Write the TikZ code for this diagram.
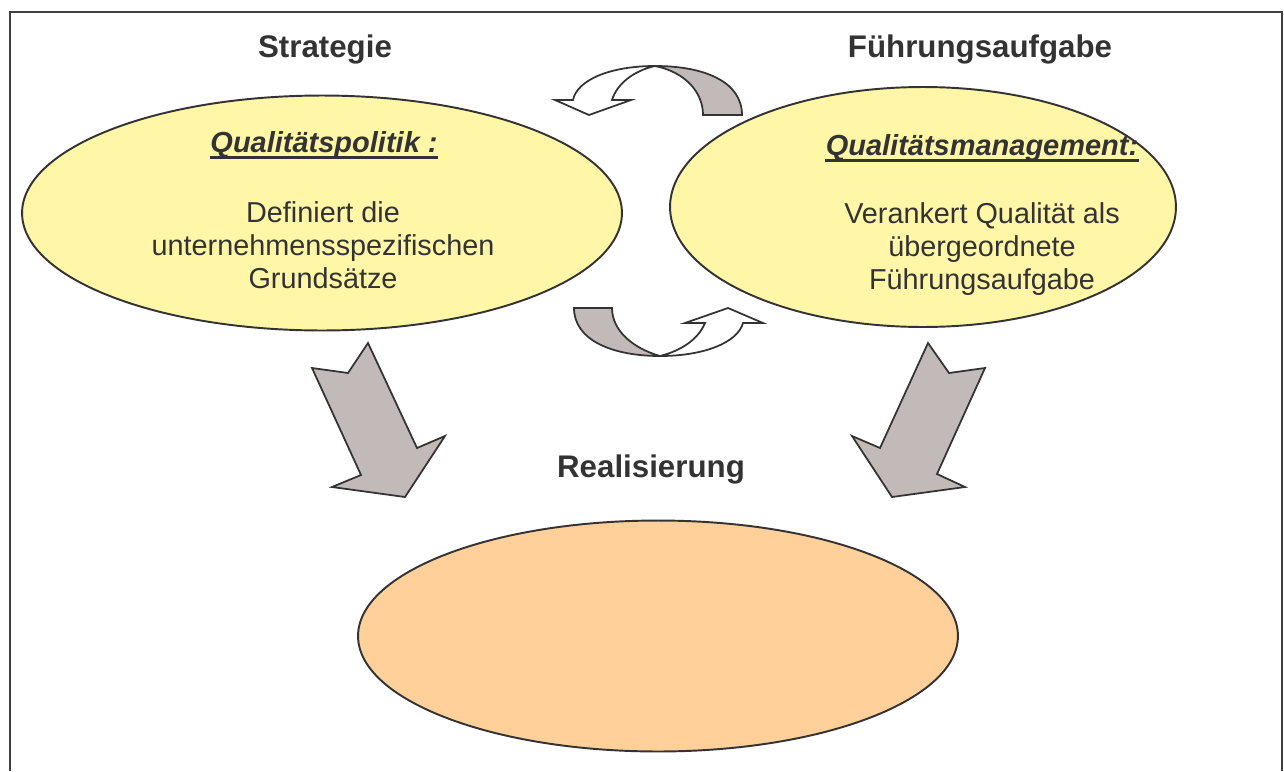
\documentclass[tikz,border=0pt]{standalone}
\usepackage{fontspec}
\setmainfont{Liberation Sans}
\usetikzlibrary{shapes.geometric}
\definecolor{ellyellow}{HTML}{FFF6A8}
\definecolor{ellpeach}{HTML}{FFD09A}
\definecolor{arrowgray}{HTML}{C2B9B9}
\definecolor{inkgray}{HTML}{333333}

\begin{document}
\begin{tikzpicture}[x=0.02cm,y=-0.02cm,
    oval/.style={ellipse, draw=inkgray, line width=1.1pt},
    heading/.style={font=\fontsize{17.8}{20}\selectfont\bfseries,
        text=inkgray, anchor=base},
    subhead/.style={font=\fontsize{16.5}{19}\selectfont\bfseries\itshape,
        text=inkgray, anchor=base, inner sep=0pt},
    bodytext/.style={font=\fontsize{16.4}{18.7}\selectfont, text=inkgray,
        align=center},
    blockarrow/.style={draw=inkgray, line width=1pt, fill=arrowgray,
        line join=miter},
    bentarrow/.style={draw=inkgray, line width=1pt, fill=white},
    ulline/.style={draw=inkgray, line width=1.7pt}]

    \useasboundingbox (0,0) rectangle (1284,771);
    \draw[line width=1.1pt, draw=black!75] (10,771) -- (10,12) -- (1282,12) -- (1282,771);

    % the three ovals
    \node[oval, fill=ellyellow, minimum width=12cm, minimum height=4.7cm]
        (politik) at (322,213) {};
    \node[oval, fill=ellyellow, minimum width=10.12cm, minimum height=4.8cm]
        (management) at (923,207) {};
    \node[oval, fill=ellpeach, minimum width=12cm, minimum height=4.62cm]
        (realisierung) at (658,636) {};

    % headings
    \node[heading] (strat) at (325,57) {Strategie};
    \node[heading] (fuehr) at (980,57) {Führungsaufgabe};
    \node[heading] (real) at (651,477) {Realisierung};

    % texts in the ovals
    \node[subhead] (qpol) at (324,152) {Qualitätspolitik :};
    \draw[ulline] ([yshift=-3pt]qpol.base west) -- ([yshift=-3pt]qpol.base east);
    \node[bodytext] (qpoltext) at (323,245)
        {Definiert die\\unternehmensspezifischen\\Grundsätze};

    \node[subhead] (qman) at (982,155) {Qualitätsmanagement:};
    \draw[ulline] ([yshift=-3pt]qman.base west) -- ([yshift=-3pt]qman.base east);
    \node[bodytext] (qmantext) at (982,249)
        {Verankert Qualität als\\übergeordnete\\Führungsaufgabe};

    % bent arrows between the ovals
    \filldraw[blockarrow] (742,115) .. controls (742,82) and (705,66) .. (655,66)
        .. controls (685,72) and (703,92) .. (703,115) -- cycle;
    \filldraw[bentarrow] (655,66) .. controls (610,66) and (577,80) .. (573,100)
        -- (555,100) -- (589,115) -- (631,100) -- (612,100)
        .. controls (617,84) and (633,71) .. (655,66) -- cycle;

    \filldraw[blockarrow] (574,308) .. controls (574,340) and (612,356) .. (660,356)
        .. controls (632,348) and (612,330) .. (612,308) -- cycle;
    \filldraw[bentarrow] (660,356) .. controls (705,356) and (738,342) .. (743,323)
        -- (763,323) -- (728,308) -- (685,323) -- (705,323)
        .. controls (698,340) and (680,351) .. (660,356) -- cycle;

    % block arrows down to the realisation
    \filldraw[blockarrow] (368,343) -- (348,373) -- (312,368) -- (361,475)
        -- (332,487) -- (405,497) -- (445,436) -- (417,448) -- cycle;
    \filldraw[blockarrow] (928,343) -- (949,373) -- (985,368) -- (937,474)
        -- (965,487) -- (892,497) -- (852,436) -- (880,448) -- cycle;

\end{tikzpicture}
\end{document}
